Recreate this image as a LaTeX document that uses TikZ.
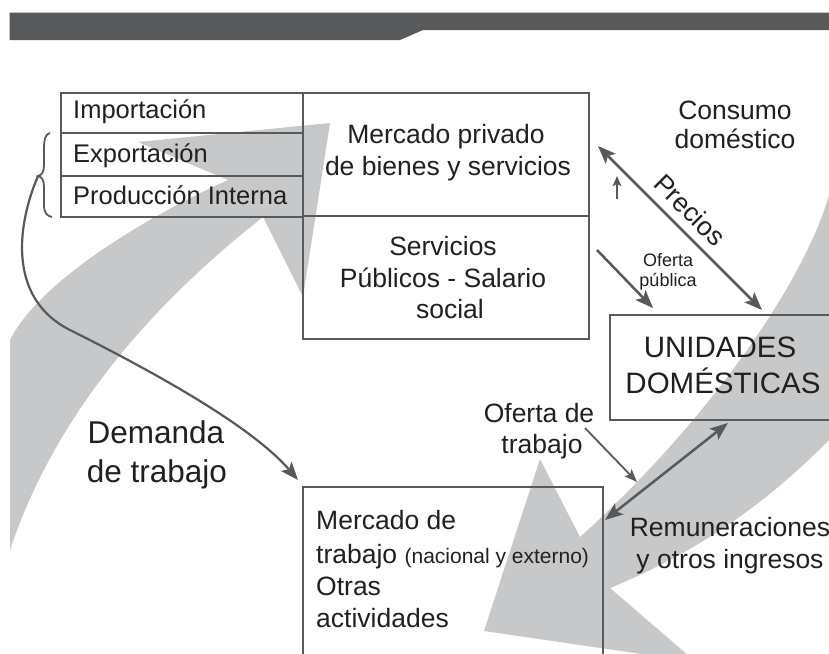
\documentclass[tikz,border=0pt]{standalone}
\usepackage{fontspec}
\setmainfont{Liberation Sans}
\usetikzlibrary{arrows.meta}
\definecolor{linegray}{RGB}{88,89,91}
\definecolor{fillgray}{RGB}{199,200,202}
\definecolor{txt}{RGB}{35,31,32}
\begin{document}
\begin{tikzpicture}[x=1pt,y=-1pt,
  box/.style={draw=linegray,line width=2.2pt,inner sep=0pt,outer sep=0pt},
  lbl/.style={text=txt,inner sep=0pt,font=\fontsize{26.5}{32}\selectfont},
  lblsmall/.style={text=txt,inner sep=0pt,font=\fontsize{18}{21}\selectfont},
  lblleft/.style={text=txt,inner sep=0pt,font=\fontsize{25.5}{30}\selectfont},
  lblbig/.style={text=txt,inner sep=0pt,font=\fontsize{29.5}{35}\selectfont},
  lbldem/.style={text=txt,inner sep=0pt,font=\fontsize{31.5}{38}\selectfont},
  arr/.style={draw=linegray,line width=2.5pt},
  bighead/.tip={Stealth[length=18pt,width=14pt,inset=4pt]},
  midhead/.tip={Stealth[length=13pt,width=10pt,inset=3pt]},
  smallhead/.tip={Stealth[length=10pt,width=8.5pt,inset=2pt]}
]
\useasboundingbox (0,0) rectangle (829,653);
\clip (0,0) rectangle (829,653);
% top bar
\fill[linegray] (9.5,12.7) -- (829,12.7) -- (829,30) -- (423,30) -- (400,40) -- (9.5,40) -- cycle;
% big gray arrows
\fill[fillgray] (10,550) .. controls (60,400) and (170,290) .. (263,217) -- (303,297) -- (330,123) -- (138,142) -- (228,180) .. controls (150,215) and (40,280) .. (10,340) -- cycle;
\fill[fillgray] (829,195) .. controls (805,280) and (710,420) .. (580,537) -- (540,459) -- (484,631) -- (696,662) -- (610,588) .. controls (690,555) and (760,510) .. (829,440) -- (840,440) -- (840,195) -- cycle;
% boxes
\node[box,minimum width=242pt,minimum height=40pt] (imp) at (182,113) {};
\node[box,minimum width=242pt,minimum height=43pt] (exp) at (182,154.5) {};
\node[box,minimum width=242pt,minimum height=41pt] (prod) at (182,196.5) {};
\node[box,minimum width=286pt,minimum height=123pt] (merc) at (446,154.5) {};
\node[box,minimum width=286pt,minimum height=123pt] (serv) at (446,277.5) {};
\node[box,minimum width=230pt,minimum height=105pt] (unid) at (725,367.5) {};
\node[box,minimum width=300pt,minimum height=213pt] (trab) at (453,593.5) {};
% texts
\node[lblleft,anchor=base west] (timp) at (73,118) {Importación};
\node[lblleft,anchor=base west] (texp) at (73,162) {Exportación};
\node[lblleft,anchor=base west] (tprod) at (73,204) {Producción Interna};
\node[lbl,anchor=base] (tm1) at (446,143) {Mercado privado};
\node[lbl,anchor=base] (tm2) at (448,175) {de bienes y servicios};
\node[lbl,anchor=base] (ts1) at (443,255) {Servicios};
\node[lbl,anchor=base] (ts2) at (443,287) {Públicos - Salario};
\node[lbl,anchor=base] (ts3) at (450,318) {social};
\node[lbl,anchor=base] (tc1) at (735,119) {Consumo};
\node[lbl,anchor=base] (tc2) at (735,148) {doméstico};
\node[lbl,rotate=-45] (tpre) at (690,210) {Precios};
\node[lblsmall,anchor=base] (to1) at (668,266) {Oferta};
\node[lblsmall,anchor=base] (to2) at (668,286) {pública};
\node[lblbig,anchor=base] (tu1) at (720,357) {UNIDADES};
\node[lblbig,anchor=base] (tu2) at (723,393) {DOMÉSTICAS};
\node[lbl,anchor=base] (tot1) at (539,422) {Oferta de};
\node[lbl,anchor=base] (tot2) at (542,453) {trabajo};
\node[lbl,anchor=base] (tr1) at (730,536) {Remuneraciones};
\node[lbl,anchor=base] (tr2) at (730,568) {y otros ingresos};
\node[lbldem,anchor=base] (td1) at (156,443) {Demanda};
\node[lbldem,anchor=base] (td2) at (157,482) {de trabajo};
\node[lbl,anchor=base west] (tt1) at (316,529) {Mercado de};
\node[lbl,anchor=base west] (tt2) at (316,563) {trabajo {\fontsize{21}{25}\selectfont(nacional y externo)}};
\node[lbl,anchor=base west] (tt3) at (316,595) {Otras};
\node[lbl,anchor=base west] (tt4) at (316,627) {actividades};
% brace
\draw[draw=linegray,line width=1.8pt] (50,133) .. controls (45,134) and (44,140) .. (44,150) -- (44,165) .. controls (44,172) and (42,175) .. (38,176) .. controls (42,177) and (44,180) .. (44,187) -- (44,205) .. controls (44,213) and (47,216) .. (52,217);
% connector coordinates
\coordinate (bt) at (38,176);
\coordinate (dm) at (70,330);
\coordinate (de) at (298,480);
\coordinate (pr1) at (598,146);
\coordinate (pr2) at (762,310);
\coordinate (up1) at (617,199);
\coordinate (up2) at (617,176);
\coordinate (op1) at (597,250);
\coordinate (op2) at (653,308);
\coordinate (ot1) at (585,428);
\coordinate (ot2) at (637,482);
\coordinate (re1) at (605,520);
\coordinate (re2) at (728,423);
% connectors
\draw[arr,line width=2.2pt,-bighead] (bt) .. controls (15,230) and (10,300) .. (dm) .. controls (170,380) and (255,430) .. (de);
\draw[arr,bighead-bighead] (pr1) -- (pr2);
\draw[arr,line width=2.4pt,-smallhead] (up1) -- (up2);
\draw[arr,-bighead] (op1) -- (op2);
\draw[arr,line width=1.8pt,-midhead] (ot1) -- (ot2);
\draw[arr,bighead-bighead] (re1) -- (re2);
\end{tikzpicture}
\end{document}
